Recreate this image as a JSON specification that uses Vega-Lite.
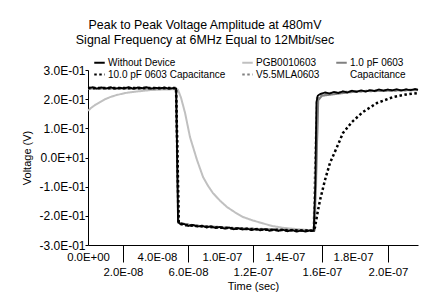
{
  "$schema": "https://vega.github.io/schema/vega-lite/v6.json",
  "width": 330,
  "height": 175,
  "autosize": "none",
  "padding": {"left": 88, "top": 70, "right": 18, "bottom": 56},
  "background": "white",
  "title": {
    "text": ["Peak to Peak Voltage Amplitude at 480mV", "Signal Frequency at 6MHz Equal to 12Mbit/sec"],
    "fontSize": 12.4, "fontWeight": "normal", "font": "Liberation Sans", "color": "black",
    "anchor": "middle", "dx": -48, "lineHeight": 15, "offset": 10
  },
  "datasets": {
    "wd": [
      {"t": 0, "v": 0.238}, {"t": 3, "v": 0.241}, {"t": 6, "v": 0.236}, {"t": 9, "v": 0.240}, {"t": 12, "v": 0.237},
      {"t": 15, "v": 0.241}, {"t": 18, "v": 0.236}, {"t": 21, "v": 0.239}, {"t": 24, "v": 0.237}, {"t": 27, "v": 0.241},
      {"t": 30, "v": 0.236}, {"t": 33, "v": 0.240}, {"t": 36, "v": 0.238}, {"t": 39, "v": 0.241}, {"t": 42, "v": 0.236},
      {"t": 45, "v": 0.239}, {"t": 48, "v": 0.237}, {"t": 51, "v": 0.240}, {"t": 54, "v": 0.236}, {"t": 57, "v": 0.238},
      {"t": 58.8, "v": 0.236}, {"t": 59.4, "v": 0.0}, {"t": 60, "v": -0.22}, {"t": 61, "v": -0.226}, {"t": 62, "v": -0.23},
      {"t": 64, "v": -0.228}, {"t": 67, "v": -0.235}, {"t": 70, "v": -0.231}, {"t": 73, "v": -0.237}, {"t": 76, "v": -0.234},
      {"t": 79, "v": -0.240}, {"t": 82, "v": -0.236}, {"t": 85, "v": -0.242}, {"t": 88, "v": -0.238}, {"t": 91, "v": -0.244},
      {"t": 94, "v": -0.240}, {"t": 97, "v": -0.246}, {"t": 100, "v": -0.242}, {"t": 103, "v": -0.247}, {"t": 106, "v": -0.244},
      {"t": 109, "v": -0.249}, {"t": 112, "v": -0.245}, {"t": 115, "v": -0.250}, {"t": 118, "v": -0.246}, {"t": 121, "v": -0.251},
      {"t": 124, "v": -0.247}, {"t": 127, "v": -0.252}, {"t": 130, "v": -0.248}, {"t": 133, "v": -0.253}, {"t": 136, "v": -0.249},
      {"t": 139, "v": -0.254}, {"t": 142, "v": -0.250}, {"t": 145, "v": -0.254}, {"t": 148, "v": -0.250}, {"t": 150.5, "v": -0.252},
      {"t": 151.5, "v": -0.1}, {"t": 152.3, "v": 0.19}, {"t": 153.2, "v": 0.212}, {"t": 155, "v": 0.218}, {"t": 158, "v": 0.223},
      {"t": 161, "v": 0.219}, {"t": 164, "v": 0.225}, {"t": 167, "v": 0.221}, {"t": 170, "v": 0.227}, {"t": 173, "v": 0.223},
      {"t": 176, "v": 0.229}, {"t": 179, "v": 0.225}, {"t": 182, "v": 0.230}, {"t": 185, "v": 0.226}, {"t": 188, "v": 0.231},
      {"t": 191, "v": 0.228}, {"t": 194, "v": 0.233}, {"t": 197, "v": 0.229}, {"t": 200, "v": 0.233}, {"t": 203, "v": 0.230},
      {"t": 206, "v": 0.234}, {"t": 209, "v": 0.230}, {"t": 212, "v": 0.234}, {"t": 215, "v": 0.231}, {"t": 218, "v": 0.235},
      {"t": 220, "v": 0.232}
    ],
    "c10": [
      {"t": 0, "v": 0.238}, {"t": 58.7, "v": 0.238}, {"t": 59.7, "v": 0.0}, {"t": 60.5, "v": -0.225}, {"t": 65, "v": -0.232},
      {"t": 80, "v": -0.238}, {"t": 100, "v": -0.244}, {"t": 120, "v": -0.248}, {"t": 150, "v": -0.251}, {"t": 151.3, "v": -0.24},
      {"t": 153, "v": -0.19}, {"t": 154.7, "v": -0.146}, {"t": 158, "v": -0.077}, {"t": 161.3, "v": -0.019}, {"t": 166, "v": 0.036},
      {"t": 170, "v": 0.084}, {"t": 176, "v": 0.122}, {"t": 183.3, "v": 0.156}, {"t": 192.7, "v": 0.187}, {"t": 203.3, "v": 0.207},
      {"t": 212, "v": 0.216}, {"t": 220, "v": 0.221}
    ],
    "pgb": [
      {"t": 0, "v": 0.16}, {"t": 2, "v": 0.17}, {"t": 5, "v": 0.181}, {"t": 8, "v": 0.19}, {"t": 11, "v": 0.199},
      {"t": 14.7, "v": 0.207}, {"t": 19, "v": 0.214}, {"t": 24.7, "v": 0.221}, {"t": 32, "v": 0.226}, {"t": 41.3, "v": 0.231},
      {"t": 50, "v": 0.233}, {"t": 58.7, "v": 0.234}, {"t": 60, "v": 0.232}, {"t": 62, "v": 0.205}, {"t": 64.7, "v": 0.153},
      {"t": 68, "v": 0.07}, {"t": 72.7, "v": -0.009}, {"t": 76.7, "v": -0.067}, {"t": 80, "v": -0.097}, {"t": 83.3, "v": -0.122},
      {"t": 88, "v": -0.148}, {"t": 92.7, "v": -0.170}, {"t": 98, "v": -0.188}, {"t": 103.3, "v": -0.204}, {"t": 110, "v": -0.216},
      {"t": 116.7, "v": -0.226}, {"t": 123, "v": -0.235}, {"t": 130, "v": -0.241}, {"t": 140, "v": -0.246}, {"t": 148, "v": -0.249},
      {"t": 151.3, "v": -0.249}, {"t": 152.3, "v": -0.05}, {"t": 153.3, "v": 0.197}, {"t": 156, "v": 0.211}, {"t": 161.3, "v": 0.221},
      {"t": 170, "v": 0.225}, {"t": 181.3, "v": 0.228}, {"t": 200, "v": 0.23}, {"t": 220, "v": 0.231}
    ],
    "c1": [
      {"t": 0, "v": 0.237}, {"t": 58.7, "v": 0.237}, {"t": 59.5, "v": 0.0}, {"t": 60.3, "v": -0.224}, {"t": 70, "v": -0.233},
      {"t": 100, "v": -0.243}, {"t": 150.5, "v": -0.251}, {"t": 151.8, "v": -0.1}, {"t": 153.5, "v": 0.197}, {"t": 156, "v": 0.212},
      {"t": 180, "v": 0.227}, {"t": 220, "v": 0.232}
    ],
    "v55": [
      {"t": 0, "v": 0.237}, {"t": 58.7, "v": 0.237}, {"t": 59.5, "v": 0.0}, {"t": 60.3, "v": -0.224}, {"t": 70, "v": -0.233},
      {"t": 100, "v": -0.243}, {"t": 150.5, "v": -0.251}, {"t": 151.6, "v": 0.0}, {"t": 152.8, "v": 0.205}, {"t": 156, "v": 0.219},
      {"t": 180, "v": 0.227}, {"t": 220, "v": 0.232}
    ]
  },
  "encoding": {
    "x": {
      "field": "t", "type": "quantitative",
      "scale": {"domain": [0, 220], "nice": false, "zero": false},
      "axis": {
        "title": "Time (sec)", "titleFontSize": 11, "titlePadding": 3,
        "values": [0, 23.3, 46, 66.7, 89.3, 110, 131.3, 156, 176.7, 200],
        "labelExpr": "[['0.0E+00'],['','2.0E-08'],['4.0E-08'],['','6.0E-08'],['1.0E-07'],['','1.2E-07'],['1.4E-07'],['','1.6E-07'],['1.8E-07'],['','2.0E-07']][indexof([0, 23.3, 46, 66.7, 89.3, 110, 131.3, 156, 176.7, 200], datum.value)]",
        "labelFontSize": 11.4, "labelLineHeight": 15, "labelOverlap": false, "labelFlush": false, "labelBound": false,
        "tickSize": 17, "labelPadding": -10.5,
        "tickOpacity": {"condition": {"test": "indexof([23.3, 66.7, 110, 156, 200], datum.value) >= 0", "value": 1}, "value": 0}
      }
    },
    "y": {
      "field": "v", "type": "quantitative",
      "scale": {"domain": [-0.3, 0.3], "nice": false, "zero": false},
      "axis": {
        "title": "Voltage (V)", "titleFontSize": 11, "titlePadding": 6,
        "values": [-0.3, -0.2, -0.1, 0, 0.1, 0.2, 0.3],
        "labelExpr": "['-3.0E-01','-2.0E-01','-1.0E-01','0.0E+01','1.0E-01','2.0E-01','3.0E-01'][round(datum.value*10)+3]",
        "labelFontSize": 12, "tickSize": 3, "labelPadding": 0, "labelOverlap": false, "labelBound": false, "labelFlush": false
      }
    },
    "color": {
      "field": "s", "type": "nominal",
      "scale": {
        "domain": ["Without Device", "10.0 pF 0603 Capacitance", "PGB0010603", "V5.5MLA0603", "1.0 pF 0603 Capacitance", "(Capacitance)"],
        "range": ["#000000", "#000000", "#c0c0c0", "#808080", "#808080", "rgba(255,255,255,0)"]
      },
      "legend": {"title": null, "orient": "none", "legendX": 5, "legendY": -14, "columns": 3,
        "labelExpr": "datum.label == '1.0 pF 0603 Capacitance' ? '1.0 pF 0603' : datum.label == '(Capacitance)' ? 'Capacitance' : datum.label"}
    },
    "strokeDash": {
      "field": "s", "type": "nominal",
      "scale": {
        "domain": ["Without Device", "10.0 pF 0603 Capacitance", "PGB0010603", "V5.5MLA0603", "1.0 pF 0603 Capacitance", "(Capacitance)"],
        "range": [[1, 0], [2.5, 2.5], [1, 0], [2.5, 2.5], [1, 0], [1, 0]]
      },
      "legend": {"title": null, "orient": "none", "legendX": 5, "legendY": -14, "columns": 3,
        "labelExpr": "datum.label == '1.0 pF 0603 Capacitance' ? '1.0 pF 0603' : datum.label == '(Capacitance)' ? 'Capacitance' : datum.label"}
    }
  },
  "layer": [
    {"data": {"name": "pgb"}, "transform": [{"calculate": "'PGB0010603'", "as": "s"}], "mark": {"type": "line", "strokeWidth": 2}},
    {"data": {"name": "c1"}, "transform": [{"calculate": "'1.0 pF 0603 Capacitance'", "as": "s"}], "mark": {"type": "line", "strokeWidth": 2}},
    {"data": {"name": "v55"}, "transform": [{"calculate": "'V5.5MLA0603'", "as": "s"}], "mark": {"type": "line", "strokeWidth": 2.5}},
    {"data": {"name": "c10"}, "transform": [{"calculate": "'10.0 pF 0603 Capacitance'", "as": "s"}], "mark": {"type": "line", "strokeWidth": 2.5}},
    {"data": {"name": "wd"}, "transform": [{"calculate": "'Without Device'", "as": "s"}], "mark": {"type": "line", "strokeWidth": 1.8}}
  ],
  "config": {
    "font": "Liberation Sans",
    "view": {"stroke": null},
    "title": {"lineHeight": 15},
    "axis": {"grid": false, "domainColor": "black", "tickColor": "black", "labelColor": "black", "titleColor": "black",
      "titleFontWeight": "normal", "labelFont": "Liberation Sans", "titleFont": "Liberation Sans"},
    "legend": {"labelFont": "Liberation Sans", "labelFontSize": 10, "labelColor": "black", "symbolType": "stroke",
      "symbolSize": 110, "symbolStrokeWidth": 2, "labelOffset": 2, "columnPadding": 12, "rowPadding": 0, "padding": 0,
      "symbolOffset": 0, "labelLimit": 300}
  }
}
